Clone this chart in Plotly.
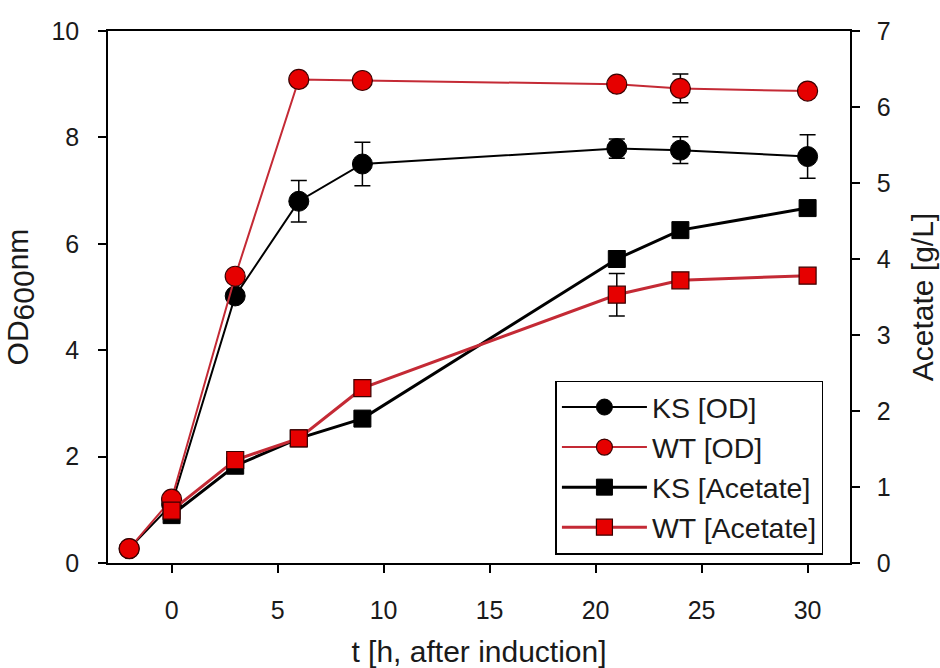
import plotly.graph_objects as go

# ---- data ----
t_od = [-2, 0, 3, 6, 9, 21, 24, 30]
ks_od = [0.27, 1.1, 5.02, 6.8, 7.5, 7.79, 7.76, 7.64]
ks_od_err = [0, 0, 0, 0.39, 0.41, 0.18, 0.25, 0.41]
wt_od = [0.27, 1.2, 5.39, 9.09, 9.07, 9.0, 8.92, 8.87]
wt_od_err = [0, 0, 0, 0, 0, 0, 0.27, 0]

t_ac = [0, 3, 6, 9, 21, 24, 30]
ks_ac = [0.63, 1.28, 1.64, 1.90, 4.0, 4.38, 4.67]
ks_ac_err = [0, 0, 0, 0, 0, 0, 0]
wt_ac = [0.69, 1.355, 1.64, 2.30, 3.53, 3.72, 3.78]
wt_ac_err = [0, 0, 0, 0, 0.28, 0, 0]

x_ticks = [0, 5, 10, 15, 20, 25, 30]
y_ticks = [0, 2, 4, 6, 8, 10]
y2_ticks = [0, 1, 2, 3, 4, 5, 6, 7]

BLACK = "#000000"
RED_FILL = "#e60000"
RED_LINE = "#c42a35"
EDGE = "#3a0000"
TXT = "#1a1a1a"
FONT = "Liberation Sans, Arial, sans-serif"

fig = go.Figure()

def err(arr):
    return dict(type="data", array=arr, visible=True, color=BLACK,
                thickness=1.5, width=8)

fig.add_trace(go.Scatter(
    x=t_ac, y=ks_ac, yaxis="y2", name="KS [Acetate]", legendrank=3,
    mode="lines+markers", line=dict(color=BLACK, width=3),
    marker=dict(symbol="square", size=17, color=BLACK,
                line=dict(color=BLACK, width=1)),
    error_y=err(ks_ac_err)))
fig.add_trace(go.Scatter(
    x=t_ac, y=wt_ac, yaxis="y2", name="WT [Acetate]", legendrank=4,
    mode="lines+markers", line=dict(color=RED_LINE, width=3),
    marker=dict(symbol="square", size=17, color=RED_FILL,
                line=dict(color=EDGE, width=1.2)),
    error_y=err(wt_ac_err)))
fig.add_trace(go.Scatter(
    x=t_od, y=ks_od, name="KS [OD]", legendrank=1,
    mode="lines+markers", line=dict(color=BLACK, width=2),
    marker=dict(symbol="circle", size=20, color=BLACK,
                line=dict(color=BLACK, width=1)),
    error_y=err(ks_od_err)))
fig.add_trace(go.Scatter(
    x=t_od, y=wt_od, name="WT [OD]", legendrank=2,
    mode="lines+markers", line=dict(color=RED_LINE, width=2),
    marker=dict(symbol="circle", size=20, color=RED_FILL,
                line=dict(color=EDGE, width=1.2)),
    error_y=err(wt_od_err)))

axis_common = dict(showgrid=False, zeroline=False, showline=True,
                   automargin=False,
                   linecolor=BLACK, linewidth=1.5, ticks="outside",
                   ticklen=8, tickwidth=1.5, tickcolor=BLACK,
                   tickfont=dict(family=FONT, size=25, color=TXT))

fig.update_layout(
    width=940, height=668,
    margin=dict(l=108, r=90, t=31, b=105),
    paper_bgcolor="white", plot_bgcolor="white",
    font=dict(family=FONT, size=25, color=TXT),
    showlegend=True,
    legend=dict(x=0.603, y=0.343, xanchor="left", yanchor="top",
                bordercolor=BLACK, borderwidth=1.5, bgcolor="white",
                font=dict(family=FONT, size=28.5, color=TXT),
                itemwidth=85, tracegroupgap=0),
    xaxis=dict(range=[-3, 32], tickvals=x_ticks, mirror=True,
               ticklabelstandoff=16,
               title=dict(text="t [h, after induction]", standoff=19,
                          font=dict(family=FONT, size=30, color=TXT)),
               **axis_common),
    yaxis=dict(range=[0, 10], tickvals=y_ticks, ticklabelstandoff=14,
               title=dict(text="OD<sub><span style='font-size:30px'>600</span></sub>nm",
                          standoff=14,
                          font=dict(family=FONT, size=30, color=TXT)),
               **axis_common),
    yaxis2=dict(range=[0, 7], tickvals=y2_ticks, overlaying="y",
                side="right", ticklabelstandoff=12,
                title=dict(text="Acetate [g/L]", standoff=22,
                           font=dict(family=FONT, size=30, color=TXT)),
                **axis_common),
)

fig.write_html("out.html")
